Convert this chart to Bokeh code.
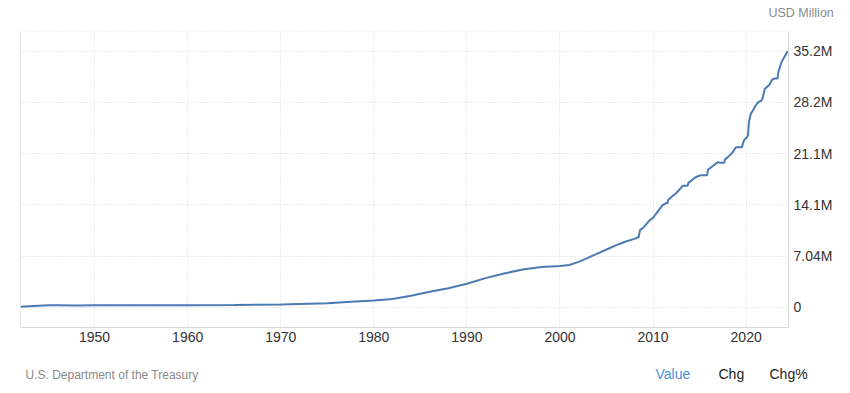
from bokeh.plotting import figure
from bokeh.layouts import column
from bokeh.models import FixedTicker, Span, Range1d
from bokeh.core.properties import value
from bokeh.embed import file_html
from bokeh.resources import INLINE

# Data: US federal debt, USD million
years = [1942.0, 1943.0, 1944.0, 1945.0, 1946.0, 1948.0, 1950.0, 1955.0, 1960.0, 1965.0,
         1970.0, 1975.0, 1978.0, 1980.0, 1982.0, 1984.0, 1986.0, 1988.0, 1990.0, 1992.0,
         1994.0, 1996.0, 1998.0, 2000.0, 2001.0, 2002.0, 2003.0, 2004.0, 2005.0, 2006.0,
         2007.0, 2008.0, 2008.45, 2008.6, 2009.0, 2009.6, 2010.0, 2010.7, 2011.0, 2011.4,
         2011.55, 2011.6, 2012.0, 2012.5, 2013.0, 2013.2, 2013.7, 2013.8, 2014.0, 2014.6,
         2015.0, 2015.2, 2015.8, 2015.9, 2016.0, 2016.7, 2017.0, 2017.2, 2017.65, 2017.72,
         2018.0, 2018.5, 2018.9, 2019.1, 2019.55, 2019.65, 2019.8, 2020.1, 2020.2, 2020.3,
         2020.5, 2020.8, 2021.0, 2021.3, 2021.65, 2021.8, 2022.0, 2022.5, 2022.8, 2023.05,
         2023.38, 2023.45, 2023.6, 2023.8, 2024.1, 2024.3, 2024.45]
debt = [72000, 137000, 201000, 259000, 269000, 252000, 257000, 274000, 286000, 317000,
        371000, 533000, 772000, 908000, 1142000, 1572000, 2125000, 2602000, 3233000, 4001000,
        4643000, 5181000, 5526000, 5674000, 5807000, 6228000, 6783000, 7379000, 7933000, 8507000,
        9008000, 9400000, 9650000, 10600000, 11000000, 11900000, 12300000, 13500000, 14000000, 14300000,
        14300000, 14700000, 15200000, 15700000, 16400000, 16700000, 16700000, 17100000, 17300000, 17900000,
        18100000, 18150000, 18150000, 18900000, 19000000, 19700000, 19950000, 19850000, 19850000, 20300000,
        20600000, 21200000, 22000000, 22000000, 22000000, 22500000, 23000000, 23400000, 23700000, 25500000,
        26600000, 27200000, 27700000, 28200000, 28400000, 28900000, 30000000, 30600000, 31300000, 31450000,
        31450000, 32300000, 32900000, 33700000, 34400000, 34800000, 35200000]

x_ticks = [1950, 1960, 1970, 1980, 1990, 2000, 2010, 2020]
y_ticks = [0, 7040000, 14080000, 21120000, 28160000, 35200000]
y_tick_labels = ["0", "7.04M", "14.1M", "21.1M", "28.2M", "35.2M"]

unit_text = "USD Million"
source_text = "U.S. Department of the Treasury"
tab_texts = ["Value", "Chg", "Chg%"]

x_start, x_end = 1942.04, 2024.55
y_start, y_end = -2790000, 37910000
FONT = "Liberation Sans"


def text_strip(height, items):
    """A bare figure used as a text strip (pixel coordinates, origin top-left)."""
    f = figure(width=850, height=height, x_range=Range1d(0, 850), y_range=Range1d(height, 0),
               x_axis_location=None, y_axis_location=None, output_backend="svg",
               toolbar_location=None, min_border=0)
    f.frame_align = False
    f.outline_line_color = None
    f.grid.visible = False
    for x, y, txt, size, color in items:
        f.text(x=[x], y=[y], text=[txt], text_font=value(FONT), text_font_size=size,
               text_color=color, text_baseline="middle", text_align="left")
    return f


header = text_strip(31, [(768, 12, unit_text, "12.5px", "#8a8a8a")])

p = figure(width=850, height=322, x_range=(x_start, x_end), y_range=(y_start, y_end),
           y_axis_location="right", output_backend="svg", toolbar_location=None,
           min_border_left=20, min_border_right=62, min_border_top=0, min_border_bottom=26)
p.frame_align = False
p.outline_line_color = None
p.background_fill_color = "white"
p.border_fill_color = "white"

p.line(years, debt, line_color="#4b7ab2", line_width=2.0)

for ax in (p.xaxis[0], p.yaxis[0]):
    ax.axis_line_color = "#d8d8d8"
    ax.major_tick_line_color = None
    ax.minor_tick_line_color = None
    ax.major_tick_out = 0
    ax.major_tick_in = 0
    ax.minor_tick_out = 0
    ax.minor_tick_in = 0
    ax.major_label_text_font = FONT
    ax.major_label_text_font_size = "14px"
    ax.major_label_text_color = "#333333"

p.xaxis.ticker = FixedTicker(ticks=x_ticks)
p.xaxis.major_label_standoff = 4
p.yaxis.ticker = FixedTicker(ticks=y_ticks)
p.yaxis.major_label_overrides = {t: l for t, l in zip(y_ticks, y_tick_labels)}
p.yaxis.major_label_standoff = 5

p.xgrid.ticker = FixedTicker(ticks=x_ticks)
p.ygrid.ticker = FixedTicker(ticks=y_ticks + [37880000])
for g in (p.xgrid[0], p.ygrid[0]):
    g.grid_line_color = "#d9d9d9"
    g.grid_line_dash = "1 2"
    g.grid_line_width = 1

p.add_layout(Span(location=x_start, dimension="height", line_color="#d8d8d8", line_width=1))

footer = text_strip(40, [
    (25, 21, source_text, "12px", "#8a8a8a"),
    (655, 20, tab_texts[0], "14px", "#4a90d9"),
    (718, 20, tab_texts[1], "14px", "#222222"),
    (769, 20, tab_texts[2], "14px", "#222222"),
])

layout = column(header, p, footer, spacing=0)
open("out.html", "w").write(file_html(layout, INLINE))
